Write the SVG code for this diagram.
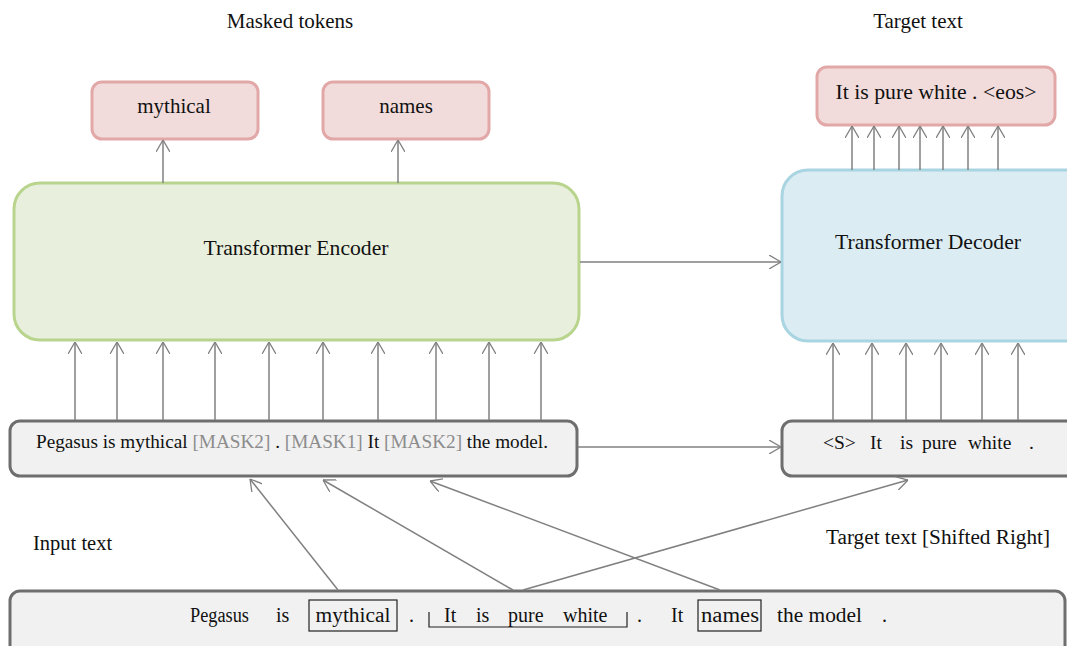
<svg xmlns="http://www.w3.org/2000/svg" width="1067" height="646" viewBox="0 0 1067 646" font-family="'Liberation Serif', 'DejaVu Serif', serif">
  <defs>
    <marker id="arrow" markerUnits="userSpaceOnUse" viewBox="0 0 12 14" refX="12" refY="7" markerWidth="12" markerHeight="14" orient="auto">
      <path d="M0,0 L12,7 L0,14" fill="none" stroke="#808080" stroke-width="1.3"/>
    </marker>
    <style>
      text { font-family: 'Liberation Serif', 'DejaVu Serif', serif; fill: #111; }
      .lbl { font-size: 21px; text-anchor: middle; }
      .tok { fill: #f2dcdb; stroke: #e2a8a8; stroke-width: 3; }
      .enc { fill: #e9efdd; stroke: #b8d48d; stroke-width: 3; }
      .dec { fill: #dbecf2; stroke: #a9d4e2; stroke-width: 3; }
      .seq { fill: #f1f1f1; stroke: #6e6e6e; stroke-width: 3; }
      .conn line { stroke: #808080; stroke-width: 1.5; marker-end: url(#arrow); }
      .mask { fill: #8c8c8c; }
      .frame { fill: none; stroke: #222; stroke-width: 1.2; }
    </style>
  </defs>

  <rect width="1067" height="646" fill="#ffffff"/>

  <!-- section captions -->
  <text class="lbl" x="290" y="28">Masked tokens</text>
  <text class="lbl" x="918" y="28">Target text</text>
  <text x="33" y="550" style="font-size:20.5px">Input text</text>
  <text x="826" y="544" style="font-size:20px" textLength="224" lengthAdjust="spacingAndGlyphs">Target text [Shifted Right]</text>

  <!-- masked token outputs -->
  <g id="tok-mythical">
    <rect class="tok" x="92" y="82" width="166" height="57" rx="10"/>
    <text class="lbl" x="174" y="113">mythical</text>
  </g>
  <g id="tok-names">
    <rect class="tok" x="323" y="82" width="166" height="57" rx="10"/>
    <text class="lbl" x="406" y="113">names</text>
  </g>

  <!-- decoder output -->
  <g id="target-out">
    <rect class="tok" x="817" y="67" width="238" height="58" rx="10"/>
    <text class="lbl" x="936" y="99" textLength="201" lengthAdjust="spacingAndGlyphs">It is pure white . &lt;eos&gt;</text>
  </g>

  <!-- encoder -->
  <g id="encoder">
    <rect class="enc" x="14" y="183" width="565" height="157" rx="26"/>
    <text class="lbl" x="296" y="255" textLength="185" lengthAdjust="spacingAndGlyphs">Transformer Encoder</text>
  </g>

  <!-- decoder (runs past the right edge) -->
  <g id="decoder">
    <rect class="dec" x="782" y="170" width="310" height="171" rx="26"/>
    <text class="lbl" x="928" y="249" textLength="186" lengthAdjust="spacingAndGlyphs">Transformer Decoder</text>
  </g>

  <!-- masked encoder input -->
  <g id="enc-input">
    <rect class="seq" x="10" y="421" width="567" height="55" rx="10"/>
    <text x="36" y="448" style="font-size:18px" textLength="512" lengthAdjust="spacingAndGlyphs">Pegasus is mythical <tspan class="mask">[MASK2]</tspan> . <tspan class="mask">[MASK1]</tspan> It <tspan class="mask">[MASK2]</tspan> the model.</text>
  </g>

  <!-- shifted decoder input -->
  <g id="dec-input">
    <rect class="seq" x="782" y="421" width="310" height="55" rx="10"/>
    <g style="font-size:19.5px">
      <text x="823" y="449">&lt;S&gt;</text>
      <text x="870" y="449">It</text>
      <text x="900" y="449">is</text>
      <text x="922" y="449">pure</text>
      <text x="968" y="449">white</text>
      <text x="1029" y="449">.</text>
    </g>
  </g>

  <!-- original text -->
  <g id="source-text">
    <rect class="seq" x="10" y="591" width="1055" height="70" rx="10"/>
    <g style="font-size:20px">
      <text x="190" y="622" textLength="59" lengthAdjust="spacingAndGlyphs">Pegasus</text>
      <text x="276" y="622">is</text>
      <rect class="frame" x="309" y="600" width="88" height="31"/>
      <text x="353" y="622" text-anchor="middle" textLength="75" lengthAdjust="spacingAndGlyphs">mythical</text>
      <text x="409" y="622">.</text>
      <path class="frame" d="M429,612 V627 H627 V612"/>
      <text x="444" y="622">It</text>
      <text x="476" y="622">is</text>
      <text x="508" y="622">pure</text>
      <text x="563" y="622">white</text>
      <text x="637" y="622">.</text>
      <text x="671" y="622">It</text>
      <rect class="frame" x="698" y="600" width="63" height="31"/>
      <text x="730" y="622" text-anchor="middle" textLength="58" lengthAdjust="spacingAndGlyphs">names</text>
      <text x="777" y="622" textLength="85" lengthAdjust="spacingAndGlyphs">the model</text>
      <text x="882" y="622">.</text>
    </g>
  </g>

  <!-- connectors -->
  <g id="connectors" class="conn">
    <!-- encoder to masked tokens -->
    <line x1="163" y1="183" x2="163" y2="140"/>
    <line x1="398" y1="183" x2="398" y2="140"/>
    <!-- decoder to target text -->
    <line x1="852" y1="170" x2="852" y2="126"/>
    <line x1="874" y1="170" x2="874" y2="126"/>
    <line x1="899" y1="170" x2="899" y2="126"/>
    <line x1="920" y1="170" x2="920" y2="126"/>
    <line x1="943" y1="170" x2="943" y2="126"/>
    <line x1="968" y1="170" x2="968" y2="126"/>
    <line x1="998" y1="170" x2="998" y2="126"/>
    <!-- masked input to encoder -->
    <line x1="75" y1="420" x2="75" y2="342"/>
    <line x1="117" y1="420" x2="117" y2="342"/>
    <line x1="163" y1="420" x2="163" y2="342"/>
    <line x1="215" y1="420" x2="215" y2="342"/>
    <line x1="269" y1="420" x2="269" y2="342"/>
    <line x1="323" y1="420" x2="323" y2="342"/>
    <line x1="378" y1="420" x2="378" y2="342"/>
    <line x1="436" y1="420" x2="436" y2="342"/>
    <line x1="489" y1="420" x2="489" y2="342"/>
    <line x1="541" y1="420" x2="541" y2="342"/>
    <!-- shifted input to decoder -->
    <line x1="833" y1="420" x2="833" y2="343"/>
    <line x1="872" y1="420" x2="872" y2="343"/>
    <line x1="906" y1="420" x2="906" y2="343"/>
    <line x1="941" y1="420" x2="941" y2="343"/>
    <line x1="982" y1="420" x2="982" y2="343"/>
    <line x1="1018" y1="420" x2="1018" y2="343"/>
    <!-- encoder to decoder -->
    <line x1="580" y1="262" x2="781" y2="262"/>
    <!-- masked input to shifted input -->
    <line x1="578" y1="447" x2="781" y2="447"/>
    <!-- source text to sequences -->
    <line x1="338" y1="590" x2="250" y2="479"/>
    <line x1="513" y1="590" x2="323" y2="480"/>
    <line x1="720" y1="590" x2="430" y2="481"/>
    <line x1="523" y1="590" x2="908" y2="480"/>
  </g>
</svg>
